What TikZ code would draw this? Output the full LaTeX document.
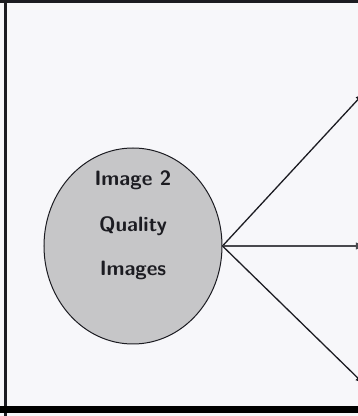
\documentclass[tikz,border=0pt]{standalone}
\usepackage{tikz}
\usetikzlibrary{arrows.meta,shapes.geometric}
\definecolor{EllGray}{HTML}{C6C6C8}
\definecolor{Ink}{HTML}{1C1C22}
\definecolor{Paper}{HTML}{F7F7FA}

\begin{document}
\begin{tikzpicture}[x=1pt,y=1pt,>=Latex,every node/.style={font=\sffamily\bfseries\huge,text=Ink}]
\useasboundingbox (0,0) rectangle (358,416);
\clip (0,0) rectangle (358,416);
\fill[Paper] (0,0) rectangle (358,416);
% frame
\draw[line width=3pt,Ink] (0,414.5) -- (358,414.5);
\draw[line width=2.5pt,Ink] (5.5,0) -- (5.5,416);
\draw[line width=7pt,black] (0,6.5) -- (358,6.5);
% source ellipse
\node[draw=Ink,ellipse,fill=EllGray,line width=1pt,minimum width=178pt,minimum height=196pt,inner sep=0pt] (img) at (133,170) {};
\node (lineA) at (133,236) {Image 2};
\node (lineB) at (133,190) {Quality};
\node (lineC) at (133,146) {Images};
% outgoing arrows, heads beyond the right edge
\coordinate (outA) at (364,323);
\coordinate (outB) at (366,170);
\coordinate (outC) at (364,32);
\draw[->,line width=1.3pt,Ink] (img.east)--(outA);
\draw[->,line width=1.6pt,Ink!80] (img.east)--(outB);
\draw[->,line width=1.3pt,Ink] (img.east)--(outC);
\end{tikzpicture}
\end{document}
